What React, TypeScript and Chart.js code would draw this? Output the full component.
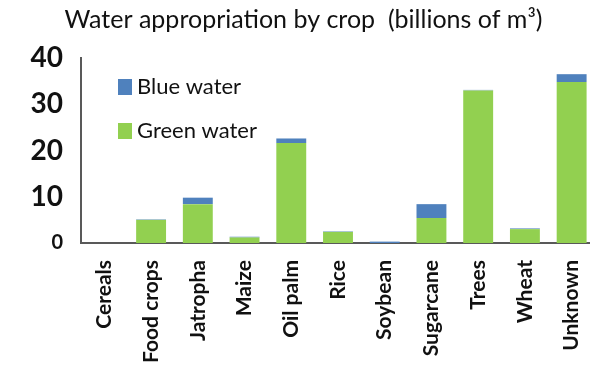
import { useEffect, useRef } from "react";
import { Chart, registerables } from "chart.js";

Chart.register(...registerables);

const categories = [
  "Cereals",
  "Food crops",
  "Jatropha",
  "Maize",
  "Oil palm",
  "Rice",
  "Soybean",
  "Sugarcane",
  "Trees",
  "Wheat",
  "Unknown",
];
const greenWater = [0, 5.0, 8.4, 1.2, 21.6, 2.4, 0, 5.4, 33.0, 3.0, 34.8];
const blueWater = [0, 0.1, 1.4, 0.15, 1.0, 0.1, 0.3, 3.0, 0.1, 0.15, 1.7];
const yTickValues = [0, 10, 20, 30, 40];
const seriesNames = ["Green water", "Blue water"];

const FONT = "Lato, 'Open Sans', 'DejaVu Sans', sans-serif";
const BLUE = "#4f81bd";
const GREEN = "#92d050";
const AXIS = "#595959";

const legendPlugin = {
  id: "insideLegend",
  afterDraw(chart: any) {
    const ctx = chart.ctx;
    const { left, top } = chart.chartArea;
    const items = chart.data.datasets.slice().reverse();
    ctx.save();
    ctx.font = `22px ${FONT}`;
    ctx.textBaseline = "middle";
    ctx.textAlign = "left";
    items.forEach((ds: any, i: number) => {
      const cy = top + 29 + i * 44;
      ctx.fillStyle = ds.backgroundColor;
      ctx.fillRect(left + 37, cy - 8, 14, 16);
      ctx.fillStyle = "#111111";
      ctx.fillText(ds.label, left + 56, cy);
    });
    ctx.restore();
  },
};

export default function App() {
  const canvasRef = useRef<HTMLCanvasElement | null>(null);

  useEffect(() => {
    if (!canvasRef.current) return;
    const chart = new Chart(canvasRef.current, {
      type: "bar",
      data: {
        labels: categories,
        datasets: [
          {
            label: seriesNames[0],
            data: greenWater,
            backgroundColor: GREEN,
            borderWidth: 0,
          },
          {
            label: seriesNames[1],
            data: blueWater,
            backgroundColor: BLUE,
            borderWidth: 0,
          },
        ],
      },
      options: {
        responsive: false,
        animation: false,
        layout: { padding: { left: 12, right: 0, top: 0, bottom: 0 } },
        datasets: {
          bar: { barPercentage: 0.64, categoryPercentage: 1 },
        },
        plugins: {
          legend: { display: false },
          tooltip: { enabled: false },
          title: {
            display: true,
            text: "Water appropriation by crop  (billions of m³)",
            color: "#111111",
            font: { family: FONT, size: 25, weight: "normal", lineHeight: 1.2 },
            padding: { top: 5, bottom: 23 },
          },
        },
        scales: {
          x: {
            stacked: true,
            grid: { display: false, drawTicks: false },
            border: { display: true, color: AXIS, width: 2 },
            ticks: {
              maxRotation: 90,
              minRotation: 90,
              padding: 17,
              color: "#111111",
              font: { family: FONT, size: 21, weight: "bold" },
            },
            afterFit: (s: any) => {
              s.height = 134;
              s.paddingLeft = 0;
              s.paddingRight = 0;
            },
          },
          y: {
            stacked: true,
            min: 0,
            max: 40,
            grid: { display: false, drawTicks: false },
            border: { display: true, color: AXIS, width: 2 },
            afterBuildTicks: (s: any) => {
              s.ticks = yTickValues.map((v) => ({ value: v }));
            },
            ticks: {
              padding: 18,
              color: "#111111",
              font: (c: any) => ({
                family: FONT,
                weight: "bold",
                size: c.tick && c.tick.value === 0 ? 20 : 28,
              }),
            },
            afterFit: (s: any) => {
              s.width = 69;
            },
          },
        },
      },
      plugins: [legendPlugin],
    });
    return () => chart.destroy();
  }, []);

  return (
    <div
      style={{
        position: "fixed",
        left: 0,
        top: 0,
        width: 590,
        height: 377,
        overflow: "hidden",
        background: "#ffffff",
      }}
    >
      <canvas ref={canvasRef} width={595} height={377} style={{ display: "block" }} />
    </div>
  );
}
